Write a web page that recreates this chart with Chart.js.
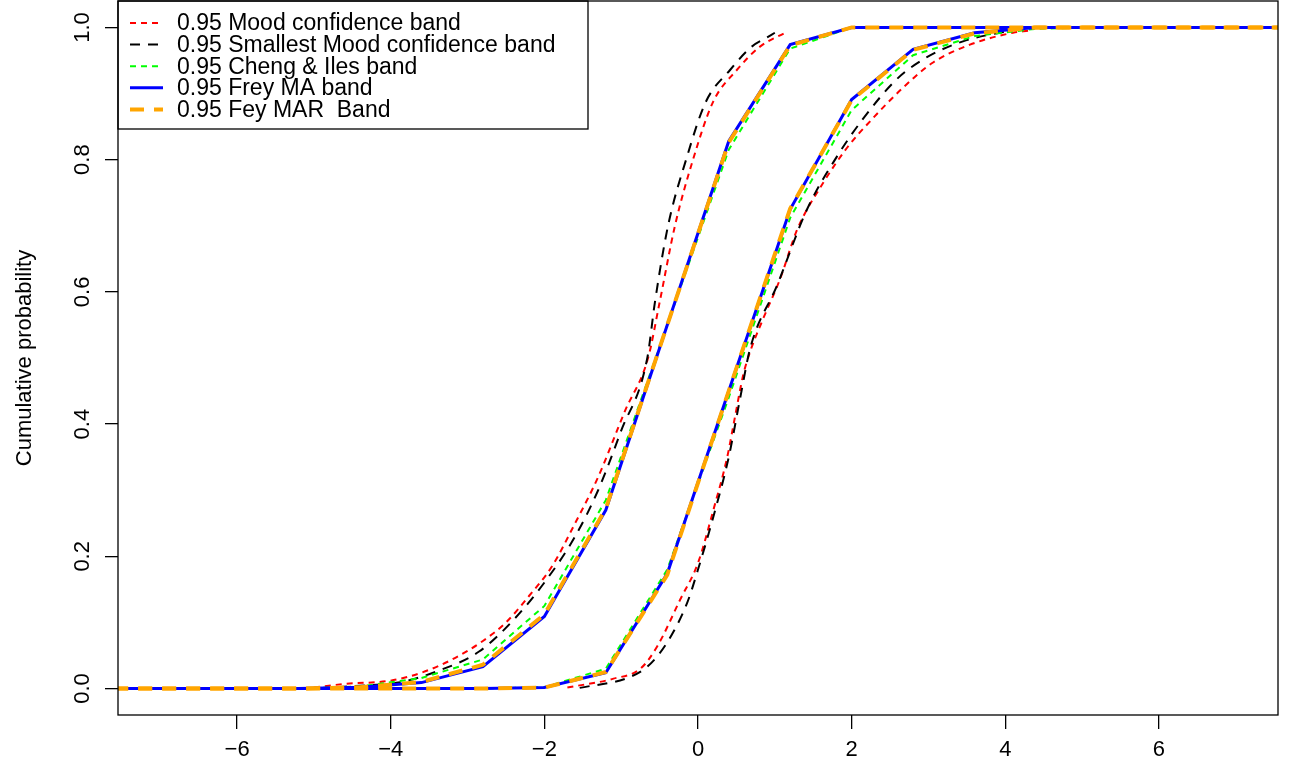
<!DOCTYPE html>
<html>
<head>
<meta charset="utf-8">
<script src="https://cdn.jsdelivr.net/npm/chart.js@4.4.1/dist/chart.umd.min.js"></script>
<style>
  html, body { margin: 0; padding: 0; background: #fff; }
  #wrap { width: 1290px; height: 774px; }
</style>
</head>
<body>
<div id="wrap"><canvas id="bandChart" width="1290" height="774"></canvas></div>
<script>
// x grid shared by the piecewise-linear bands
const xGrid = [-7.6, -6.8, -6.0, -5.2, -4.4, -3.6, -2.8, -2.0, -1.2, -0.4, 0.4, 1.2, 2.0, 2.8, 3.6, 4.4, 5.2, 6.0, 6.8, 7.6];

// Frey MA band
const freyUpper = [0, 0, 0, 0, 0.002, 0.009, 0.033, 0.109, 0.27, 0.55, 0.828, 0.974, 1, 1, 1, 1, 1, 1, 1, 1];
const freyLower = [0, 0, 0, 0, 0, 0, 0, 0.0015, 0.024, 0.174, 0.45, 0.725, 0.891, 0.967, 0.992, 1, 1, 1, 1, 1];

// Cheng & Iles band
const chengUpper = [0, 0, 0, 0, 0.003, 0.016, 0.044, 0.125, 0.285, 0.55, 0.815, 0.968, 1, 1, 1, 1, 1, 1, 1, 1];
const chengLower = [0, 0, 0, 0, 0, 0, 0, 0.002, 0.03, 0.18, 0.44, 0.712, 0.875, 0.958, 0.987, 0.998, 1, 1, 1, 1];

// Fey MAR band
const marUpper = [0, 0, 0, 0, 0.002, 0.01, 0.036, 0.112, 0.272, 0.55, 0.826, 0.973, 1, 1, 1, 1, 1, 1, 1, 1];
const marLower = [0, 0, 0, 0, 0, 0, 0, 0.0015, 0.025, 0.172, 0.45, 0.726, 0.89, 0.966, 0.991, 1, 1, 1, 1, 1];

// Mood band (smooth)
const moodUpperX = [-5.0, -4.6, -4.0, -3.6, -3.2, -2.8, -2.5, -2.2, -1.9, -1.6, -1.3, -0.95, -0.65, -0.5, -0.3, -0.065, 0.195, 0.508, 0.807, 1.15];
const moodUpperY = [0.0015, 0.007, 0.012, 0.024, 0.044, 0.072, 0.10, 0.14, 0.185, 0.25, 0.32, 0.42, 0.50, 0.584, 0.70, 0.80, 0.887, 0.936, 0.971, 0.993];
const moodLowerX = [-1.7, -1.1, -0.75, -0.53, -0.23, 0.0, 0.2, 0.38, 0.48, 0.59, 0.68, 0.85, 1.07, 1.29, 1.63, 1.94, 2.24, 2.67, 3.06, 3.54, 4.1, 4.3];
const moodLowerY = [0.0015, 0.015, 0.03, 0.064, 0.135, 0.19, 0.27, 0.35, 0.41, 0.475, 0.51, 0.56, 0.62, 0.694, 0.765, 0.818, 0.858, 0.909, 0.947, 0.974, 0.992, 0.995];

// Smallest Mood band (smooth)
const smallUpperX = [-4.7, -4.3, -3.9, -3.4, -2.85, -2.4, -1.97, -1.6, -1.3, -1.0, -0.66, -0.56, -0.39, -0.155, 0.1, 0.42, 0.7, 0.9, 1.0];
const smallUpperY = [0.002, 0.005, 0.009, 0.026, 0.056, 0.104, 0.165, 0.23, 0.30, 0.39, 0.50, 0.585, 0.70, 0.80, 0.887, 0.936, 0.971, 0.985, 0.992];
const smallLowerX = [-1.54, -0.92, -0.66, -0.4, -0.14, 0.0, 0.2, 0.4, 0.55, 0.68, 1.03, 1.42, 1.81, 2.15, 2.59, 2.98, 3.45, 3.93, 4.05];
const smallLowerY = [0.001, 0.016, 0.033, 0.07, 0.13, 0.18, 0.26, 0.35, 0.44, 0.515, 0.61, 0.725, 0.805, 0.862, 0.922, 0.955, 0.979, 0.992, 0.994];

const xTicks = [-6, -4, -2, 0, 2, 4, 6];
const yTicks = [0, 0.2, 0.4, 0.6, 0.8, 1.0];

const legendLabels = [
  "0.95 Mood confidence band",
  "0.95 Smallest Mood confidence band",
  "0.95 Cheng & Iles band",
  "0.95 Frey MA band",
  "0.95 Fey MAR  Band"
];

const FONT = "'Liberation Sans', Arial, Helvetica, sans-serif";

const styles = [
  { color: "#FF0000", width: 2, dash: [6, 5] },
  { color: "#000000", width: 2, dash: [10, 8] },
  { color: "#00FF00", width: 2, dash: [6, 5] },
  { color: "#0000FF", width: 3, dash: [] },
  { color: "#FFA500", width: 4, dash: [14, 10] }
];

function pts(xs, ys) {
  return xs.map((x, i) => ({ x: x, y: ys[i] }));
}

function line(points, s, smooth) {
  return {
    data: points,
    borderColor: s.color,
    borderWidth: s.width,
    borderDash: s.dash,
    pointRadius: 0,
    fill: false,
    tension: 0,
    cubicInterpolationMode: smooth ? "monotone" : "default"
  };
}

const datasets = [
  line(pts(moodUpperX, moodUpperY), styles[0], true),
  line(pts(moodLowerX, moodLowerY), styles[0], true),
  line(pts(smallUpperX, smallUpperY), styles[1], true),
  line(pts(smallLowerX, smallLowerY), styles[1], true),
  line(pts(xGrid, chengUpper), styles[2], false),
  line(pts(xGrid, chengLower), styles[2], false),
  line(pts(xGrid, freyUpper), styles[3], false),
  line(pts(xGrid, freyLower), styles[3], false),
  line(pts(xGrid, marUpper), styles[4], false),
  line(pts(xGrid, marLower), styles[4], false)
];
// later datasets on top, like R draw order
datasets.forEach((d, i) => { d.order = datasets.length - i; });

// legend box in the top-left corner of the plot
const legendBox = {
  id: "legendBox",
  afterDatasetsDraw(chart) {
    const ctx = chart.ctx;
    const a = chart.chartArea;
    const x0 = a.left, y0 = a.top, w = 470, h = 128;
    ctx.save();
    ctx.fillStyle = "#fff";
    ctx.fillRect(x0, y0, w, h);
    ctx.strokeStyle = "#000";
    ctx.lineWidth = 1.3;
    ctx.strokeRect(x0, y0, w, h);
    ctx.font = "23px " + FONT;
    ctx.textBaseline = "middle";
    ctx.fillStyle = "#000";
    legendLabels.forEach((lab, i) => {
      const y = y0 + 22 + i * 21.6;
      const s = styles[i];
      ctx.beginPath();
      ctx.strokeStyle = s.color;
      ctx.lineWidth = s.width;
      ctx.setLineDash(s.dash);
      ctx.moveTo(x0 + 12, y);
      ctx.lineTo(x0 + 45, y);
      ctx.stroke();
      ctx.setLineDash([]);
      ctx.fillText(lab, x0 + 59, y + 1);
    });
    ctx.restore();
  },
  afterDraw(chart) {
    const ctx = chart.ctx;
    const a = chart.chartArea;
    ctx.save();
    ctx.strokeStyle = "#000";
    ctx.lineWidth = 1.3;
    ctx.strokeRect(a.left, a.top, a.right - a.left, a.bottom - a.top);
    ctx.restore();
  }
};

new Chart(document.getElementById("bandChart"), {
  type: "line",
  data: { datasets: datasets },
  options: {
    responsive: false,
    animation: false,
    layout: { padding: { left: 0, right: 12, top: 1, bottom: 0 } },
    plugins: {
      legend: { display: false },
      tooltip: { enabled: false }
    },
    scales: {
      x: {
        type: "linear",
        min: -7.55,
        max: 7.55,
        afterBuildTicks: s => { s.ticks = xTicks.map(v => ({ value: v })); },
        afterFit: s => { s.height = 59; s.paddingLeft = 0; s.paddingRight = 0; },
        border: { display: false },
        grid: { drawOnChartArea: false, drawTicks: true, tickLength: 14, color: "#000", lineWidth: 1.3 },
        ticks: {
          autoSkip: false,
          maxRotation: 0,
          padding: 8,
          color: "#000",
          font: { family: FONT, size: 22 },
          callback: v => (v < 0 ? "\u2212" + Math.abs(v) : String(v))
        }
      },
      y: {
        type: "linear",
        min: -0.04,
        max: 1.04,
        afterBuildTicks: s => { s.ticks = yTicks.map(v => ({ value: v })); },
        afterFit: s => { s.width = 118; s.paddingTop = 0; s.paddingBottom = 0; },
        border: { display: false },
        grid: { drawOnChartArea: false, drawTicks: true, tickLength: 13, color: "#000", lineWidth: 1.3 },
        ticks: {
          autoSkip: false,
          minRotation: 90,
          maxRotation: 90,
          crossAlign: "center",
          padding: 7,
          color: "#000",
          font: { family: FONT, size: 22 },
          callback: v => v.toFixed(1)
        },
        title: {
          display: true,
          text: "Cumulative probability",
          color: "#000",
          font: { family: FONT, size: 22 },
          padding: { top: 12, bottom: 0 }
        }
      }
    }
  },
  plugins: [legendBox]
});
</script>
</body>
</html>
